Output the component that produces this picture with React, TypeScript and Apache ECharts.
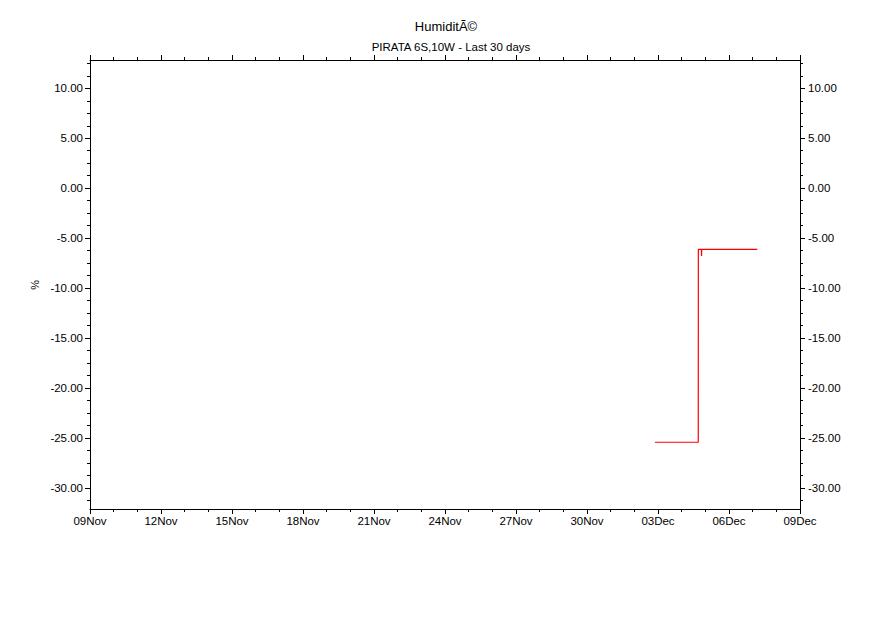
import React, { useEffect, useRef } from "react";
import * as echarts from "echarts";

const DAY = 86400000;
const START = Date.UTC(2024, 10, 9); // 09 Nov
const END = Date.UTC(2024, 11, 9); // 09 Dec
const MONTHS = ["Jan", "Feb", "Mar", "Apr", "May", "Jun", "Jul", "Aug", "Sep", "Oct", "Nov", "Dec"];

const titleText = "HumiditÃ©";
const subtitleText = "PIRATA 6S,10W - Last 30 days";
const yName = "%";

// series: time (UTC) / value
const times = [
  Date.UTC(2024, 11, 2, 20, 50),
  Date.UTC(2024, 11, 4, 16, 50),
  Date.UTC(2024, 11, 4, 16, 55),
  Date.UTC(2024, 11, 4, 20, 0),
  Date.UTC(2024, 11, 4, 20, 10),
  Date.UTC(2024, 11, 4, 20, 20),
  Date.UTC(2024, 11, 4, 20, 30),
  Date.UTC(2024, 11, 7, 4, 45),
];
const values = [-25.42, -25.42, -6.13, -6.13, -6.77, -6.13, -6.13, -6.13];

const yMin = -32.1;
const yMax = 12.83;
const yMajorTicks = [-30, -25, -20, -15, -10, -5, 0, 5, 10];
const yMinorTicks = [
  -31.25, -28.75, -27.5, -26.25, -23.75, -22.5, -21.25, -18.75, -17.5, -16.25,
  -13.75, -12.5, -11.25, -8.75, -7.5, -6.25, -3.75, -2.5, -1.25, 1.25, 2.5,
  3.75, 6.25, 7.5, 8.75, 11.25, 12.5,
];

const FONT = "Liberation Sans";

function fmtDate(v: number) {
  const d = new Date(v);
  const dd = String(d.getUTCDate()).padStart(2, "0");
  return dd + MONTHS[d.getUTCMonth()];
}

export default function App() {
  const ref = useRef<HTMLDivElement>(null);
  useEffect(() => {
    if (!ref.current) return;
    const chart = echarts.init(ref.current, null, { renderer: "svg" });
    const line = { show: true, onZero: false, lineStyle: { color: "#000", width: 1 } };
    const makeY = (pos: "left" | "right", major: boolean) => ({
      type: "value",
      position: pos,
      min: yMin,
      max: yMax,
      splitLine: { show: false },
      axisLine: major ? line : { show: false, onZero: false },
      axisTick: {
        show: true,
        length: major ? 5 : 3,
        lineStyle: { color: "#000", width: 1 },
        customValues: major ? yMajorTicks : yMinorTicks,
      },
      axisLabel: major
        ? {
            show: true,
            customValues: yMajorTicks,
            formatter: (v: number) => v.toFixed(2),
            color: "#000",
            fontFamily: FONT,
            fontSize: 11.5,
            margin: pos === "left" ? 7 : 8,
          }
        : { show: false },
    });
    const makeX = (pos: "top" | "bottom") => ({
      type: "value",
      position: pos,
      min: START,
      max: END,
      interval: 3 * DAY,
      splitLine: { show: false },
      axisLine: line,
      axisTick: { show: true, length: 5, lineStyle: { color: "#000", width: 1 } },
      minorTick: { show: true, splitNumber: 3, length: 3, lineStyle: { color: "#000", width: 1 } },
      minorSplitLine: { show: false },
      axisLabel:
        pos === "bottom"
          ? { show: true, formatter: fmtDate, color: "#000", fontFamily: FONT, fontSize: 11.5, margin: 6 }
          : { show: false },
    });
    chart.setOption({
      animation: false,
      backgroundColor: "#fff",
      title: [
        {
          text: titleText,
          left: 441,
          top: 15,
          textAlign: "center",
          textStyle: { fontFamily: FONT, fontSize: 13, fontWeight: "normal", color: "#000" },
        },
        {
          text: subtitleText,
          left: 446,
          top: 36,
          textAlign: "center",
          textStyle: { fontFamily: FONT, fontSize: 11.5, fontWeight: "normal", color: "#000" },
        },
      ],
      graphic: [
        {
          type: "text",
          x: 35,
          y: 285,
          rotation: -Math.PI / 2,
          style: { text: yName, fill: "#000", font: "11px " + FONT, align: "center", verticalAlign: "middle" },
        },
      ],
      grid: { left: 90, right: 91, top: 60, bottom: 121, containLabel: false },
      xAxis: [makeX("bottom"), makeX("top")],
      yAxis: [makeY("left", true), makeY("left", false), makeY("right", true), makeY("right", false)],
      series: [
        {
          type: "line",
          xAxisIndex: 0,
          yAxisIndex: 0,
          data: times.map((t, i) => [t, values[i]]),
          symbol: "none",
          lineStyle: { color: "#ff0000", width: 1.2 },
          itemStyle: { color: "#ff0000" },
        },
      ],
    });
    return () => chart.dispose();
  }, []);
  return <div ref={ref} style={{ width: 891, height: 630, position: "absolute", left: 0, top: 0 }} />;
}
